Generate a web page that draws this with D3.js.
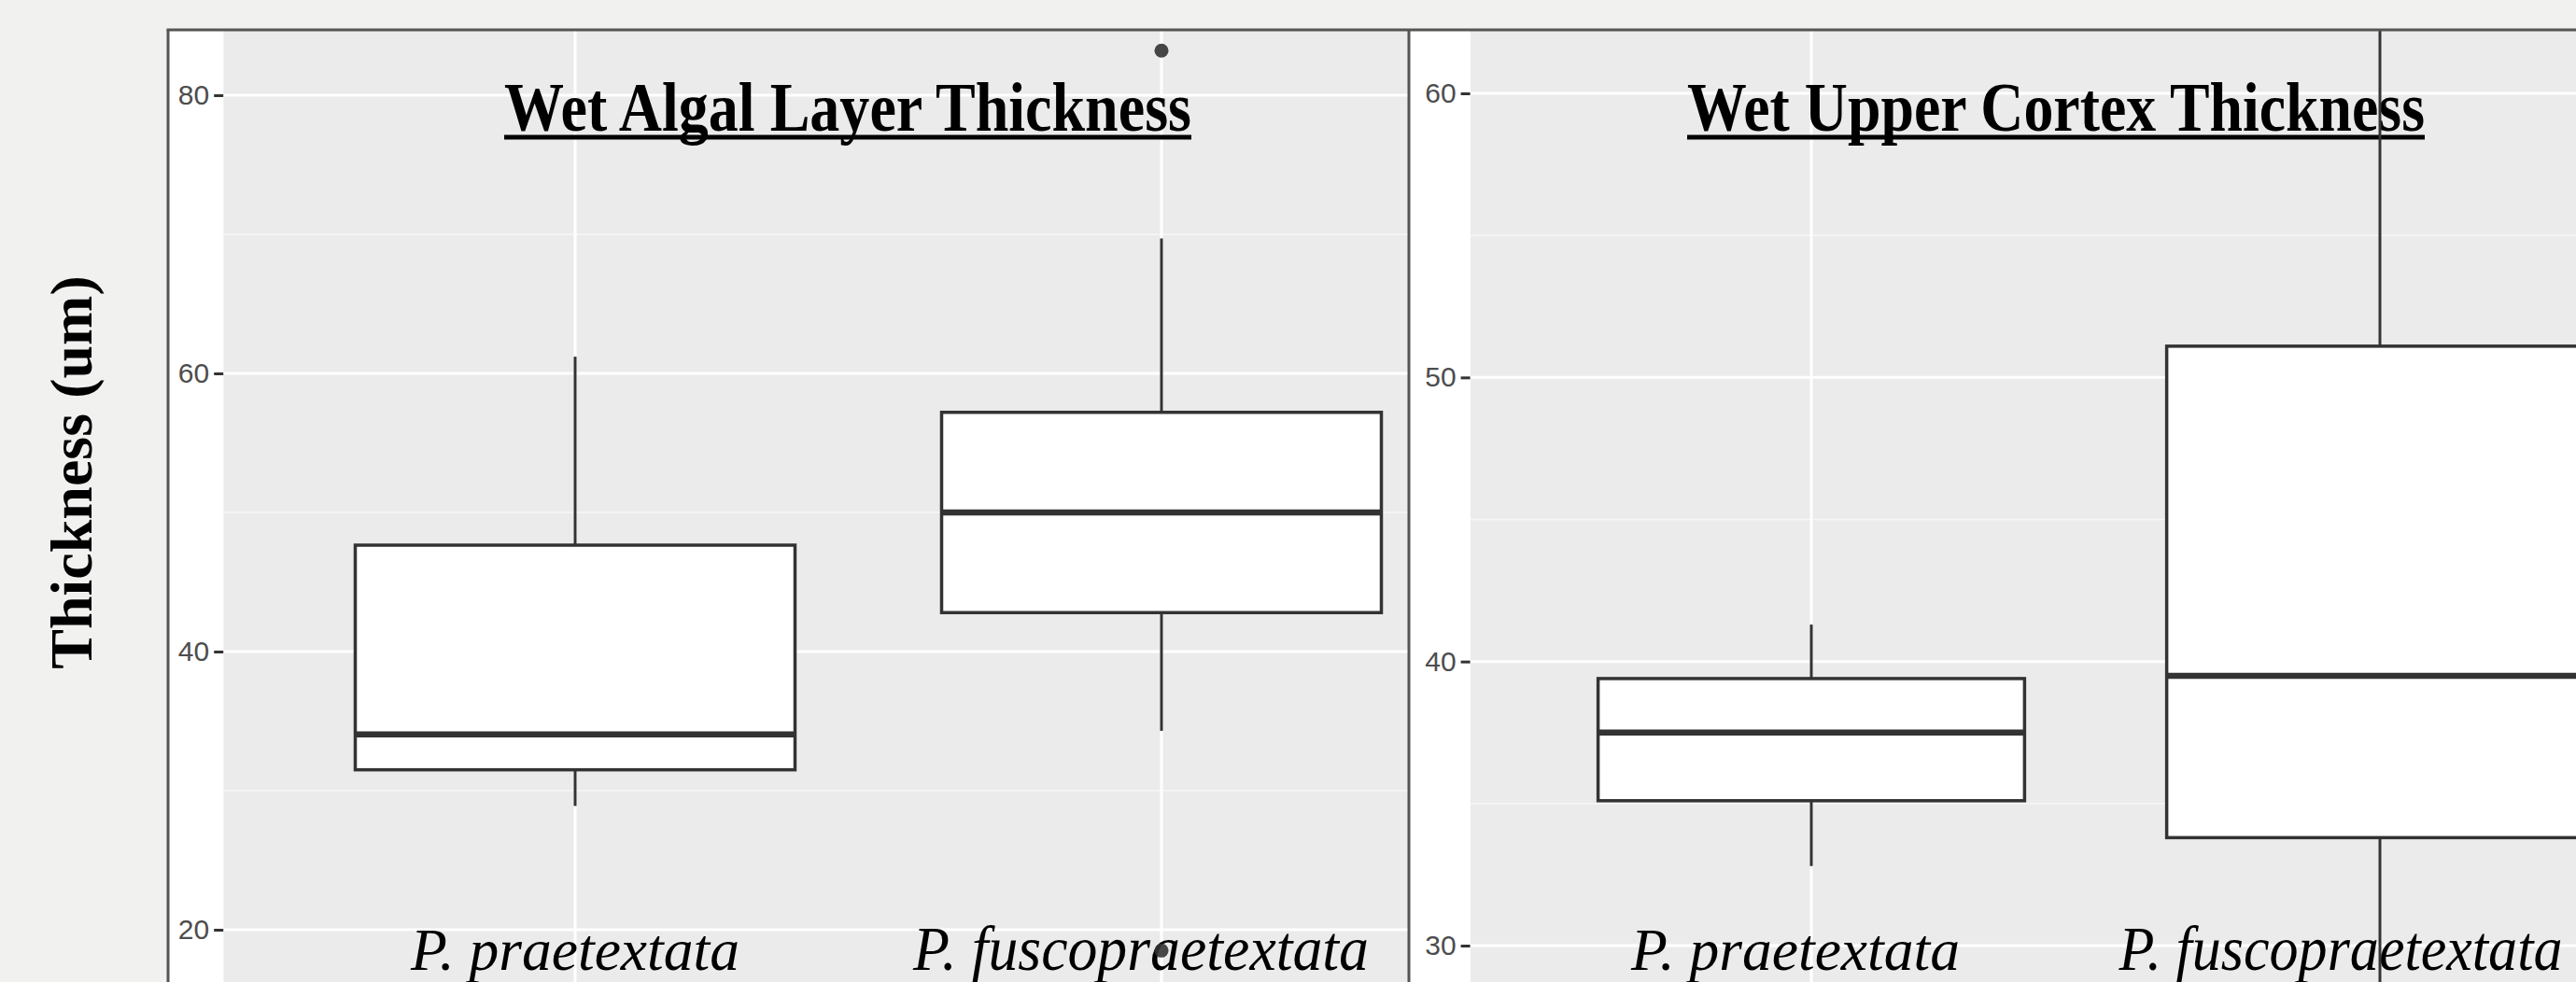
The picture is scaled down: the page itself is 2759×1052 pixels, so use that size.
<!DOCTYPE html>
<html>
<head>
<meta charset="utf-8">
<script src="https://cdn.jsdelivr.net/npm/d3@7"></script>
<style>
  html, body { margin: 0; padding: 0; background: #f1f2f0; }
  svg { display: block; }
</style>
</head>
<body>
<svg id="chart" width="2759" height="1052"></svg>
<script>
// species on the x axis
const categories = ['P. praetextata', 'P. fuscopraetextata'];

// Wet algal layer thickness (um), box summary per species
const algalLower = [28.9, 34.3];
const algalQ1 = [31.5, 42.8];
const algalMedian = [34.05, 50.0];
const algalQ3 = [47.65, 57.2];
const algalUpper = [61.2, 69.7];
const algalOutliers = [[], [83.2, 18.5]];
const algalTicks = [20, 40, 60, 80];

// Wet upper cortex thickness (um)
const cortexLower = [32.8, 20.0];
const cortexQ1 = [35.1, 33.8];
const cortexMedian = [37.5, 39.5];
const cortexQ3 = [39.4, 51.1];
const cortexUpper = [41.3, 70.0];
const cortexOutliers = [[], []];
const cortexTicks = [30, 40, 50, 60];

const titles = ['Wet Algal Layer Thickness', 'Wet Upper Cortex Thickness'];
const yTitle = 'Thickness (um)';

const width = 2759, height = 1052;
const frameTop = 32, frameLeft = 180, divider = 1509;

const svg = d3.select('#chart');

// panel layouts
const panels = [
  {
    title: titles[0], titleX: 908, titleW: 736,
    stripX: frameLeft, gx0: 239.2, gx1: 1508, step: 628,
    yDomain: [20, 80], yRange: [996, 102], ticks: algalTicks,
    lower: algalLower, q1: algalQ1, median: algalMedian, q3: algalQ3, upper: algalUpper,
    outliers: algalOutliers,
    labelDx: [0, -22], labelW: [352, 488]
  },
  {
    title: titles[1], titleX: 2202, titleW: 790,
    stripX: divider, gx0: 1574.6, gx1: width, step: 609,
    yDomain: [30, 60], yRange: [1013, 100], ticks: cortexTicks,
    lower: cortexLower, q1: cortexQ1, median: cortexMedian, q3: cortexQ3, upper: cortexUpper,
    outliers: cortexOutliers,
    labelDx: [-17, -42], labelW: [352, 475]
  }
];

const defs = svg.append('defs');

panels.forEach((p, pi) => {
  const x = d3.scalePoint()
    .domain(categories)
    .range([p.gx0, p.gx0 + 2.2 * p.step])
    .padding(0.6);
  const y = d3.scaleLinear().domain(p.yDomain).range(p.yRange);
  const boxW = 0.75 * x.step();

  // white plot area + grey panel
  svg.append('rect')
    .attr('x', p.stripX).attr('y', frameTop)
    .attr('width', p.gx1 - p.stripX).attr('height', height - frameTop)
    .attr('fill', '#ffffff');

  defs.append('clipPath').attr('id', 'clip' + pi)
    .append('rect')
    .attr('x', p.gx0).attr('y', frameTop)
    .attr('width', p.gx1 - p.gx0).attr('height', height - frameTop);

  const g = svg.append('g').attr('clip-path', `url(#clip${pi})`);

  g.append('rect')
    .attr('x', p.gx0).attr('y', frameTop)
    .attr('width', p.gx1 - p.gx0).attr('height', height - frameTop)
    .attr('fill', '#ebebeb');

  // minor grid (midpoints between ticks, plus one step outside)
  const tStep = p.ticks[1] - p.ticks[0];
  const minor = d3.pairs(p.ticks).map(([a, b]) => (a + b) / 2)
    .concat([p.ticks[0] - tStep / 2, p.ticks[p.ticks.length - 1] + tStep / 2]);
  g.selectAll('.minor')
    .data(minor)
    .enter().append('line')
    .attr('x1', p.gx0).attr('x2', p.gx1)
    .attr('y1', d => y(d)).attr('y2', d => y(d))
    .attr('stroke', '#f7f7f7').attr('stroke-width', 1.5);

  g.selectAll('.major')
    .data(p.ticks)
    .enter().append('line')
    .attr('x1', p.gx0).attr('x2', p.gx1)
    .attr('y1', d => y(d)).attr('y2', d => y(d))
    .attr('stroke', '#ffffff').attr('stroke-width', 3);

  g.selectAll('.vgrid')
    .data(categories)
    .enter().append('line')
    .attr('x1', d => x(d)).attr('x2', d => x(d))
    .attr('y1', frameTop).attr('y2', height)
    .attr('stroke', '#ffffff').attr('stroke-width', 3);

  // title
  g.append('text')
    .attr('x', p.titleX).attr('y', 140)
    .attr('text-anchor', 'middle')
    .attr('textLength', p.titleW)
    .attr('lengthAdjust', 'spacingAndGlyphs')
    .style('font-family', '"Liberation Serif", "Times New Roman", serif')
    .style('font-weight', 'bold')
    .style('font-size', '75px')
    .attr('fill', '#000')
    .text(p.title);
  g.append('line')
    .attr('x1', p.titleX - p.titleW / 2).attr('x2', p.titleX + p.titleW / 2)
    .attr('y1', 147).attr('y2', 147)
    .attr('stroke', '#000').attr('stroke-width', 5);

  // category labels inside the panel
  g.selectAll('.cat')
    .data(categories)
    .enter().append('text')
    .attr('x', (d, i) => x(d) + p.labelDx[i])
    .attr('y', 1039)
    .attr('text-anchor', 'middle')
    .attr('textLength', (d, i) => p.labelW[i])
    .attr('lengthAdjust', 'spacingAndGlyphs')
    .style('font-family', '"Liberation Serif", "Times New Roman", serif')
    .style('font-style', 'italic')
    .style('font-size', (d, i) => i === 0 ? '64px' : '68px')
    .attr('fill', '#000')
    .text(d => d);

  // boxplots
  const boxes = categories.map((c, i) => ({
    cat: c, lower: p.lower[i], q1: p.q1[i], median: p.median[i],
    q3: p.q3[i], upper: p.upper[i], outliers: p.outliers[i]
  }));

  const bg = g.selectAll('.box')
    .data(boxes)
    .enter().append('g')
    .attr('class', 'box');

  bg.append('line')
    .attr('x1', d => x(d.cat)).attr('x2', d => x(d.cat))
    .attr('y1', d => y(d.upper)).attr('y2', d => y(d.q3))
    .attr('stroke', '#333').attr('stroke-width', 3);
  bg.append('line')
    .attr('x1', d => x(d.cat)).attr('x2', d => x(d.cat))
    .attr('y1', d => y(d.q1)).attr('y2', d => y(d.lower))
    .attr('stroke', '#333').attr('stroke-width', 3);
  bg.append('rect')
    .attr('x', d => x(d.cat) - boxW / 2)
    .attr('y', d => y(d.q3))
    .attr('width', boxW)
    .attr('height', d => y(d.q1) - y(d.q3))
    .attr('fill', '#ffffff')
    .attr('stroke', '#333').attr('stroke-width', 3.5);
  bg.append('line')
    .attr('x1', d => x(d.cat) - boxW / 2).attr('x2', d => x(d.cat) + boxW / 2)
    .attr('y1', d => y(d.median)).attr('y2', d => y(d.median))
    .attr('stroke', '#333').attr('stroke-width', 6.5);

  bg.selectAll('.out')
    .data(d => d.outliers.map(v => ({ cat: d.cat, v })))
    .enter().append('circle')
    .attr('cx', d => x(d.cat)).attr('cy', d => y(d.v))
    .attr('r', 7.5)
    .attr('fill', '#333').attr('fill-opacity', 0.9);

  // y axis
  const axis = svg.append('g')
    .attr('transform', `translate(${p.gx0},0)`)
    .call(d3.axisLeft(y).tickValues(p.ticks).tickSize(10).tickPadding(5));
  axis.select('.domain').remove();
  axis.selectAll('.tick line').attr('stroke', '#333').attr('stroke-width', 3);
  axis.selectAll('.tick text')
    .attr('fill', '#4d4d4d')
    .style('font-family', '"Liberation Sans", Arial, sans-serif')
    .style('font-size', '30px');
});

// frame
svg.append('line')
  .attr('x1', frameLeft - 1.5).attr('x2', width)
  .attr('y1', frameTop).attr('y2', frameTop)
  .attr('stroke', '#555').attr('stroke-width', 3);
[frameLeft, divider].forEach(fx => {
  svg.append('line')
    .attr('x1', fx).attr('x2', fx)
    .attr('y1', frameTop).attr('y2', height)
    .attr('stroke', '#555').attr('stroke-width', 3);
});

// y axis title
svg.append('text')
  .attr('transform', 'translate(98,506) rotate(-90)')
  .attr('text-anchor', 'middle')
  .style('font-family', '"Liberation Serif", "Times New Roman", serif')
  .style('font-weight', 'bold')
  .style('font-size', '64px')
  .attr('fill', '#000')
  .text(yTitle);
</script>
</body>
</html>
